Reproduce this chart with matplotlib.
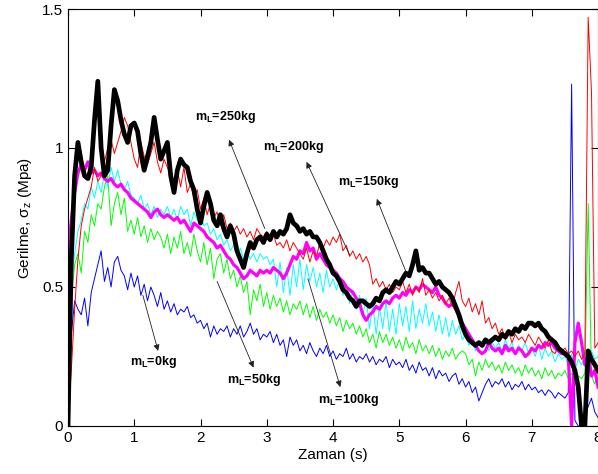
import numpy as np
import matplotlib
matplotlib.use("Agg")
import matplotlib.pyplot as plt

plt.rcParams['font.family'] = ['Liberation Sans', 'DejaVu Sans']
plt.rcParams['mathtext.fontset'] = 'custom'
plt.rcParams['mathtext.rm'] = 'Liberation Sans'
plt.rcParams['mathtext.it'] = 'Liberation Sans'
plt.rcParams['mathtext.bf'] = 'Liberation Sans:bold'

# time axis, 0.05 s steps (0 .. 8 s)
t = np.round(np.arange(161) * 0.05, 2)

# stress readings (MPa) for each load
m0 = [0.00, 0.33, 0.45, 0.42, 0.40, 0.46, 0.36, 0.48, 0.53, 0.58,
      0.63, 0.52, 0.57, 0.50, 0.59, 0.61, 0.56, 0.54, 0.49, 0.55,
      0.50, 0.54, 0.47, 0.51, 0.45, 0.50, 0.47, 0.43, 0.48, 0.42,
      0.45, 0.41, 0.44, 0.40, 0.42, 0.41, 0.43, 0.39, 0.40, 0.37,
      0.38, 0.35, 0.37, 0.32, 0.36, 0.33, 0.35, 0.34, 0.36, 0.32,
      0.35, 0.33, 0.36, 0.32, 0.34, 0.37, 0.33, 0.35, 0.31, 0.33,
      0.32, 0.34, 0.30, 0.33, 0.29, 0.31, 0.25, 0.32, 0.29, 0.31,
      0.27, 0.29, 0.26, 0.30, 0.27, 0.25, 0.28, 0.26, 0.29, 0.25,
      0.27, 0.24, 0.26, 0.25, 0.28, 0.24, 0.26, 0.23, 0.25, 0.24,
      0.26, 0.23, 0.25, 0.22, 0.24, 0.23, 0.25, 0.21, 0.24, 0.22,
      0.23, 0.21, 0.24, 0.20, 0.22, 0.19, 0.23, 0.20, 0.21, 0.18,
      0.21, 0.17, 0.20, 0.18, 0.19, 0.16, 0.18, 0.19, 0.15, 0.17,
      0.14, 0.16, 0.12, 0.14, 0.09, 0.12, 0.15, 0.17, 0.14, 0.16,
      0.15, 0.17, 0.14, 0.16, 0.13, 0.15, 0.14, 0.16, 0.13, 0.15,
      0.13, 0.14, 0.12, 0.13, 0.11, 0.13, 0.12, 0.10, 0.12, 0.11,
      0.10, 0.12, 1.23, 0.02, 0.00, 0.00, 0.03, 0.07, 0.10, 0.05,
      0.03]

m50 = [0.25, 0.46, 0.58, 0.62, 0.55, 0.70, 0.66, 0.76, 0.72, 0.80,
       0.78, 0.86, 0.90, 0.72, 0.80, 0.84, 0.76, 0.82, 0.70, 0.74,
       0.69, 0.75, 0.68, 0.72, 0.66, 0.71, 0.67, 0.70, 0.68, 0.64,
       0.69, 0.62, 0.68, 0.64, 0.70, 0.62, 0.66, 0.61, 0.69, 0.63,
       0.59, 0.66, 0.58, 0.64, 0.53, 0.60, 0.62, 0.55, 0.60, 0.53,
       0.56, 0.50, 0.54, 0.48, 0.52, 0.40, 0.49, 0.45, 0.51, 0.43,
       0.48, 0.42, 0.47, 0.43, 0.46, 0.41, 0.45, 0.40, 0.44, 0.42,
       0.45, 0.40, 0.44, 0.39, 0.43, 0.38, 0.42, 0.39, 0.41, 0.37,
       0.40, 0.36, 0.39, 0.34, 0.38, 0.35, 0.37, 0.33, 0.36, 0.32,
       0.35, 0.30, 0.33, 0.28, 0.34, 0.30, 0.33, 0.29, 0.32, 0.28,
       0.31, 0.27, 0.32, 0.28, 0.30, 0.26, 0.31, 0.27, 0.29, 0.26,
       0.29, 0.25, 0.28, 0.24, 0.27, 0.25, 0.28, 0.24, 0.26, 0.27,
       0.26, 0.22, 0.24, 0.18, 0.23, 0.20, 0.24, 0.21, 0.23, 0.20,
       0.22, 0.19, 0.23, 0.20, 0.22, 0.19, 0.21, 0.18, 0.22, 0.19,
       0.21, 0.18, 0.20, 0.17, 0.21, 0.18, 0.20, 0.17, 0.19, 0.18,
       0.20, 0.17, 0.19, 0.16, 0.18, 0.17, 0.19, 0.80, 0.18, 0.15,
       0.20]

m100 = [0.40, 0.52, 0.62, 0.70, 0.74, 0.80, 0.78, 0.86, 0.82, 0.88,
        0.84, 0.91, 0.86, 0.93, 0.88, 0.92, 0.87, 0.85, 0.88, 0.83,
        0.82, 0.80, 0.83, 0.78, 0.80, 0.76, 0.79, 0.75, 0.78, 0.76,
        0.79, 0.75, 0.78, 0.74, 0.79, 0.76, 0.78, 0.72, 0.77, 0.74,
        0.76, 0.72, 0.73, 0.69, 0.71, 0.67, 0.69, 0.65, 0.67, 0.63,
        0.65, 0.61, 0.64, 0.60, 0.63, 0.60, 0.62, 0.59, 0.62, 0.60,
        0.61, 0.58, 0.60, 0.50, 0.59, 0.48, 0.57, 0.47, 0.58, 0.50,
        0.60, 0.49, 0.58, 0.52, 0.57, 0.50, 0.55, 0.48, 0.56, 0.50,
        0.53, 0.49, 0.53, 0.47, 0.51, 0.44, 0.49, 0.42, 0.47, 0.40,
        0.46, 0.35, 0.44, 0.33, 0.43, 0.35, 0.45, 0.34, 0.42, 0.33,
        0.44, 0.36, 0.43, 0.34, 0.45, 0.35, 0.42, 0.37, 0.44, 0.36,
        0.41, 0.34, 0.40, 0.33, 0.39, 0.32, 0.38, 0.33, 0.36, 0.31,
        0.33, 0.29, 0.31, 0.27, 0.30, 0.28, 0.31, 0.27, 0.30, 0.28,
        0.30, 0.27, 0.31, 0.28, 0.30, 0.26, 0.29, 0.27, 0.30, 0.26,
        0.28, 0.25, 0.29, 0.24, 0.28, 0.25, 0.27, 0.23, 0.26, 0.24,
        0.25, 0.22, 0.26, 0.20, 0.24, 0.22, 0.25, 0.23, 0.27, 0.24,
        0.25]

m150 = [0.60, 0.74, 0.84, 0.91, 0.94, 0.92, 0.95, 0.91, 0.92, 0.90,
        0.91, 0.89, 0.88, 0.89, 0.87, 0.86, 0.87, 0.85, 0.84, 0.82,
        0.81, 0.80, 0.79, 0.78, 0.77, 0.75, 0.77, 0.78, 0.76, 0.75,
        0.76, 0.75, 0.74, 0.75, 0.73, 0.74, 0.72, 0.70, 0.73, 0.72,
        0.71, 0.70, 0.68, 0.67, 0.66, 0.64, 0.65, 0.63, 0.61, 0.60,
        0.58, 0.57, 0.55, 0.53, 0.54, 0.56, 0.55, 0.54, 0.56, 0.55,
        0.56, 0.55, 0.57, 0.56, 0.55, 0.53, 0.55, 0.58, 0.61, 0.60,
        0.63, 0.62, 0.66, 0.63, 0.64, 0.60, 0.62, 0.60, 0.58, 0.57,
        0.56, 0.55, 0.53, 0.52, 0.50, 0.49, 0.48, 0.46, 0.44, 0.40,
        0.38, 0.40, 0.41, 0.43, 0.42, 0.44, 0.45, 0.44, 0.46, 0.47,
        0.46, 0.48, 0.47, 0.49, 0.48, 0.50, 0.49, 0.51, 0.50, 0.49,
        0.48, 0.50, 0.47, 0.46, 0.44, 0.43, 0.44, 0.42, 0.40, 0.37,
        0.35, 0.33, 0.31, 0.29, 0.27, 0.26, 0.27, 0.30, 0.28, 0.27,
        0.28, 0.26, 0.29, 0.27, 0.28, 0.26, 0.28, 0.27, 0.25, 0.26,
        0.28, 0.27, 0.29, 0.28, 0.30, 0.29, 0.30, 0.28, 0.27, 0.26,
        0.26, 0.25, 0.00, 0.30, 0.37, 0.30, 0.22, 0.25, 0.18, 0.20,
        0.14]

m200 = [0.02, 0.20, 0.42, 0.60, 0.72, 0.78, 0.82, 0.86, 0.93, 0.88,
        0.90, 0.95, 1.00, 1.03, 0.98, 1.02, 1.06, 1.11, 1.08, 1.02,
        0.96, 0.93, 1.02, 0.97, 0.94, 0.98, 1.02, 0.95, 0.91, 0.96,
        0.93, 0.90, 0.88, 0.92, 0.86, 0.93, 0.84, 0.87, 0.82, 0.85,
        0.78, 0.82, 0.76, 0.80, 0.75, 0.77, 0.72, 0.76, 0.71, 0.73,
        0.70, 0.72, 0.69, 0.71, 0.68, 0.70, 0.67, 0.71, 0.69, 0.68,
        0.70, 0.67, 0.69, 0.65, 0.66, 0.64, 0.67, 0.63, 0.66, 0.64,
        0.62, 0.60, 0.64, 0.59, 0.63, 0.61, 0.66, 0.64, 0.67, 0.65,
        0.68, 0.66, 0.69, 0.63, 0.65, 0.61, 0.63, 0.60, 0.62, 0.59,
        0.61, 0.58, 0.51, 0.53, 0.50, 0.52, 0.49, 0.51, 0.48, 0.50,
        0.49, 0.52, 0.48, 0.51, 0.47, 0.50, 0.48, 0.53, 0.47, 0.49,
        0.46, 0.48, 0.45, 0.47, 0.44, 0.46, 0.43, 0.48, 0.52, 0.45,
        0.43, 0.46, 0.41, 0.44, 0.40, 0.45, 0.37, 0.39, 0.35, 0.37,
        0.33, 0.35, 0.31, 0.34, 0.30, 0.33, 0.31, 0.32, 0.30, 0.33,
        0.31, 0.29, 0.32, 0.30, 0.28, 0.31, 0.27, 0.26, 0.29, 0.27,
        0.28, 0.26, 0.27, 0.25, 0.27, 0.24, 0.26, 1.47, 1.20, 0.28,
        0.30]

m250 = [0.00, 0.60, 0.90, 1.02, 0.95, 0.90, 0.89, 0.93, 1.10, 1.24,
        1.00, 0.90, 0.92, 1.08, 1.21, 1.17, 1.10, 1.05, 1.02, 1.08,
        1.09, 1.06, 0.98, 0.92, 0.97, 1.02, 1.11, 1.03, 0.96, 0.99,
        1.02, 0.90, 0.84, 0.92, 0.96, 0.94, 0.93, 0.88, 0.85, 0.78,
        0.73, 0.79, 0.84, 0.80, 0.74, 0.72, 0.76, 0.71, 0.68, 0.72,
        0.69, 0.63, 0.60, 0.57, 0.62, 0.66, 0.64, 0.67, 0.68, 0.66,
        0.69, 0.67, 0.70, 0.68, 0.70, 0.69, 0.71, 0.76, 0.73, 0.72,
        0.70, 0.71, 0.69, 0.70, 0.68, 0.68, 0.66, 0.63, 0.60, 0.58,
        0.55, 0.54, 0.52, 0.49, 0.48, 0.46, 0.45, 0.43, 0.45, 0.45,
        0.44, 0.43, 0.44, 0.46, 0.45, 0.48, 0.49, 0.48, 0.50, 0.52,
        0.51, 0.53, 0.55, 0.54, 0.58, 0.63, 0.56, 0.57, 0.55, 0.55,
        0.53, 0.51, 0.52, 0.50, 0.49, 0.48, 0.46, 0.43, 0.40, 0.36,
        0.33, 0.31, 0.30, 0.29, 0.30, 0.29, 0.31, 0.30, 0.31, 0.32,
        0.31, 0.33, 0.32, 0.34, 0.33, 0.35, 0.34, 0.36, 0.35, 0.37,
        0.37, 0.36, 0.37, 0.35, 0.34, 0.32, 0.31, 0.30, 0.28, 0.27,
        0.26, 0.25, 0.23, 0.20, 0.14, 0.00, 0.00, 0.27, 0.24, 0.22,
        0.20]

labels = ['m$_{\\mathbf{L}}$=0kg', 'm$_{\\mathbf{L}}$=50kg', 'm$_{\\mathbf{L}}$=100kg',
          'm$_{\\mathbf{L}}$=150kg', 'm$_{\\mathbf{L}}$=200kg', 'm$_{\\mathbf{L}}$=250kg']
# text position, arrow tail (on curve), arrow head (near text)
text_pos = [(0.94, 0.22), (2.40, 0.155), (3.77, 0.083), (4.07, 0.867), (2.94, 0.993), (1.92, 1.10)]
arrow_tail = [(1.13, 0.47), (2.25, 0.52), (3.62, 0.53), (5.10, 0.555), (4.25, 0.615), (2.97, 0.71)]
arrow_head = [(1.36, 0.27), (2.80, 0.21), (4.11, 0.14), (4.66, 0.817), (3.60, 0.95), (2.43, 1.03)]

fig = plt.figure(figsize=(5.98, 4.74), dpi=100)
ax = fig.add_axes([0.1137, 0.1013, 0.8865, 0.8797])

ax.plot(t, m0, color='#0000ff', lw=0.7)
ax.plot(t, m50, color='#00ff00', lw=0.7)
ax.plot(t, m100, color='#00ffff', lw=0.7)
ax.plot(t, m150, color='#ff00ff', lw=2.3)
ax.plot(t, m200, color='#ff0000', lw=0.7)
ax.plot(t, m250, color='k', lw=3.4)

for lab, tp, tail, head in zip(labels, text_pos, arrow_tail, arrow_head):
    ax.annotate('', xy=head, xytext=tail,
                arrowprops=dict(arrowstyle='-|>', color='#222222', lw=0.6,
                                mutation_scale=9, shrinkA=0, shrinkB=0))
    ax.text(tp[0], tp[1], lab, fontsize=9, fontweight='bold', ha='left', va='baseline')

ax.set_xlim(0, 8)
ax.set_ylim(0, 1.5)
ax.set_xticks(range(0, 9))
ax.set_yticks([0, 0.5, 1, 1.5])
ax.set_yticklabels(['0', '0.5', '1', '1.5'])
ax.tick_params(direction='in', top=True, right=True, length=5, width=0.8, labelsize=11)
for s in ax.spines.values():
    s.set_linewidth(0.8)

ax.set_xlabel('Zaman (s)', fontsize=11, labelpad=2)
ax.set_ylabel('Gerilme, $\\sigma_z$ (Mpa)', fontsize=11, labelpad=6)

fig.savefig('out.png', dpi=100)
